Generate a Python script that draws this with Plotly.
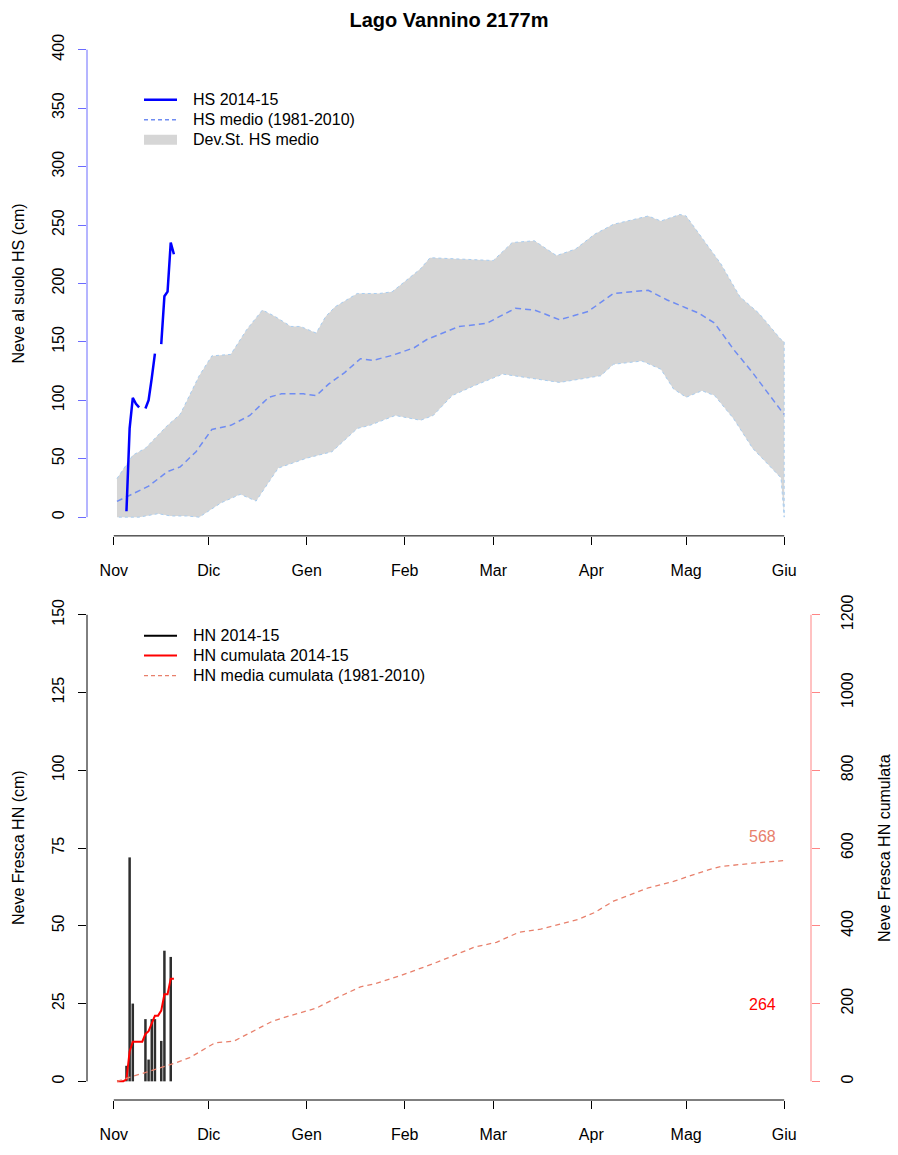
import pandas as pd
import numpy as np
import plotly.graph_objects as go

TITLE = "Lago Vannino 2177m"
MONTH_TICKS = ["2014-11-01", "2014-12-01", "2015-01-01", "2015-02-01",
               "2015-03-01", "2015-04-01", "2015-05-01", "2015-06-01"]
MONTH_LABELS = ["Nov", "Dic", "Gen", "Feb", "Mar", "Apr", "Mag", "Giu"]

HS_TICKS = [0, 50, 100, 150, 200, 250, 300, 350, 400]
HN_TICKS = [0, 25, 50, 75, 100, 125, 150]
CUM_TICKS = [0, 200, 400, 600, 800, 1000, 1200]

# HS 2014-15 (daily, None = missing)
hs_dates = [d.strftime("%Y-%m-%d") for d in pd.date_range("2014-11-05", "2014-11-20")]
hs_values = [5, 76, 102, 97, 94, None, 93, 100, 119, 140, None, 148, 189, 193, 235, 225]

# HS medio (1981-2010)
hs_mean_dates = ["2014-11-02", "2014-11-12", "2014-11-18", "2014-11-22", "2014-11-27",
                 "2014-12-02", "2014-12-08", "2014-12-14", "2014-12-20", "2014-12-24",
                 "2014-12-31", "2015-01-04", "2015-01-08", "2015-01-13", "2015-01-18",
                 "2015-01-22", "2015-01-28", "2015-02-04", "2015-02-08", "2015-02-18",
                 "2015-02-27", "2015-03-08", "2015-03-14", "2015-03-22", "2015-03-31",
                 "2015-04-08", "2015-04-19", "2015-04-25", "2015-05-05", "2015-05-10",
                 "2015-05-16", "2015-05-22", "2015-05-31", "2015-06-01"]
hs_mean_values = [13.5, 26.5, 39, 43, 56, 75, 78.6, 87, 102.6, 105.5,
                  105.5, 104, 114, 123.7, 135.6, 134.2, 138.4, 145, 152, 163,
                  166, 178.7, 177.3, 168.9, 176, 191.4, 194.2, 185.8, 174.5, 166,
                  143.5, 123.7, 91.3, 88]

# HS medio + dev.st.
hs_upper_dates = ["2014-11-02", "2014-11-07", "2014-11-11", "2014-11-18", "2014-11-22",
                  "2014-11-28", "2014-12-02", "2014-12-08", "2014-12-13", "2014-12-18",
                  "2014-12-22", "2014-12-27", "2014-12-30", "2015-01-04", "2015-01-07",
                  "2015-01-10", "2015-01-17", "2015-01-24", "2015-01-28", "2015-02-02",
                  "2015-02-06", "2015-02-09", "2015-02-18", "2015-03-01", "2015-03-07",
                  "2015-03-14", "2015-03-21", "2015-03-27", "2015-04-02", "2015-04-08",
                  "2015-04-19", "2015-04-23", "2015-04-29", "2015-05-01", "2015-05-12",
                  "2015-05-18", "2015-05-24", "2015-05-31", "2015-06-01"]
hs_upper_values = [33, 53, 59, 78.6, 88, 121, 138, 139.3, 160.4, 177.3,
                   171.7, 163.2, 163.2, 157.5, 171.7, 180, 191.4, 191.4, 192.8, 204,
                   212.5, 222, 221, 219.6, 235, 236.5, 223.8, 229.4, 242, 250.6,
                   257.7, 253.4, 259, 257.7, 216.7, 188.6, 174.5, 152, 150]

# HS medio - dev.st.
hs_lower_dates = ["2014-11-02", "2014-11-09", "2014-11-15", "2014-11-19", "2014-11-24",
                  "2014-11-28", "2014-12-05", "2014-12-11", "2014-12-16", "2014-12-23",
                  "2015-01-01", "2015-01-09", "2015-01-17", "2015-01-21", "2015-01-29",
                  "2015-02-06", "2015-02-10", "2015-02-16", "2015-02-23", "2015-03-04",
                  "2015-03-22", "2015-04-04", "2015-04-08", "2015-04-17", "2015-04-23",
                  "2015-04-27", "2015-05-01", "2015-05-06", "2015-05-10", "2015-05-16",
                  "2015-05-22", "2015-05-31", "2015-06-01"]
hs_lower_values = [0, 0, 3, 1, 1, 0, 12.4, 19.5, 13.8, 42,
                   50.5, 56, 75.9, 78.6, 87, 82.9, 87, 104, 112.5, 122.4,
                   115.3, 121, 130.8, 133.6, 126.6, 109.7, 102.6, 108.2, 104, 84.3,
                   59, 33.6, 0]

# HN 2014-15 (daily new snow)
hn_dates = [d.strftime("%Y-%m-%d") for d in pd.date_range("2014-11-02", "2014-11-20")]
hn_values = [0, 0, 0, 5, 72, 25, 0, 0, 0, 20, 7, 20, 20, 0, 13, 42, 0, 40, 0]

# HN media cumulata (1981-2010)
hn_cum_mean_dates = ["2014-11-02", "2014-11-07", "2014-11-13", "2014-11-20", "2014-11-25",
                     "2014-12-03", "2014-12-09", "2014-12-15", "2014-12-21", "2014-12-26",
                     "2015-01-04", "2015-01-09", "2015-01-18", "2015-01-23", "2015-01-31",
                     "2015-02-10", "2015-02-15", "2015-02-23", "2015-03-02", "2015-03-09",
                     "2015-03-16", "2015-03-28", "2015-04-02", "2015-04-08", "2015-04-19",
                     "2015-04-27", "2015-05-08", "2015-05-12", "2015-05-22", "2015-06-01"]
hn_cum_mean_values = [0, 12.7, 27, 45.8, 61, 99, 103.5, 129, 154, 167,
                      188, 209, 243, 252, 273, 302.5, 319.6, 345, 357.7, 383,
                      391.6, 417, 434, 463.5, 497.6, 514.4, 544, 552.5, 561, 568]

# ---------------------------------------------------------------
FONT = "Liberation Sans, Arial, Helvetica, sans-serif"
HS_COL = "#0000ff"
HS_AXIS_COL = "#6b6bff"
MEAN_COL = "#6f8cf2"
BAND_COL = "#d6d6d6"
BAND_EDGE = "#a9cdf0"
CUM_COL = "#ff0000"
CUMMEAN_COL = "#e8806c"
RIGHT_AXIS_COL = "#ff8585"
BAR_COL = "#2e2e2e"

W, H = 898, 1155
ML, MR, MT, MB = 87, 87, 31, 42
PW, PH = W - ML - MR, H - MT - MB


def px_x(px):
    return (px - ML) / PW


def px_y(py):
    return (H - MB - py) / PH


hn_cum = list(np.cumsum(hn_values))

fig = go.Figure()

# ---- top panel -------------------------------------------------
band_x = hs_upper_dates + hs_lower_dates[::-1]
band_y = hs_upper_values + hs_lower_values[::-1]
fig.add_trace(go.Scatter(x=band_x, y=band_y, fill="toself", fillcolor=BAND_COL,
                         line=dict(color=BAND_EDGE, width=1, dash="dot"),
                         mode="lines", name="Dev.St. HS medio", showlegend=False,
                         hoverinfo="skip", xaxis="x", yaxis="y"))
fig.add_trace(go.Scatter(x=hs_mean_dates, y=hs_mean_values, mode="lines",
                         line=dict(color=MEAN_COL, width=1.5, dash="6px,4px"),
                         name="HS medio (1981-2010)", showlegend=False,
                         xaxis="x", yaxis="y"))
fig.add_trace(go.Scatter(x=hs_dates, y=hs_values, mode="lines", connectgaps=False,
                         line=dict(color=HS_COL, width=2.5), name="HS 2014-15",
                         showlegend=False, xaxis="x", yaxis="y"))

# ---- bottom panel ----------------------------------------------
bar_x, bar_y = [], []
for d, v in zip(hn_dates, hn_values):
    bar_x += [d, d, None]
    bar_y += [0, v, None]
fig.add_trace(go.Scatter(x=bar_x, y=bar_y, mode="lines",
                         line=dict(color=BAR_COL, width=2.5), name="HN 2014-15",
                         showlegend=False, xaxis="x2", yaxis="y2"))
fig.add_trace(go.Scatter(x=hn_dates, y=hn_cum, mode="lines",
                         line=dict(color=CUM_COL, width=2),
                         name="HN cumulata 2014-15", showlegend=False,
                         xaxis="x2", yaxis="y3"))
fig.add_trace(go.Scatter(x=hn_cum_mean_dates, y=hn_cum_mean_values, mode="lines",
                         line=dict(color=CUMMEAN_COL, width=1.3, dash="5px,4px"),
                         name="HN media cumulata (1981-2010)", showlegend=False,
                         xaxis="x2", yaxis="y3"))

# ---- axes ------------------------------------------------------
start = pd.Timestamp(MONTH_TICKS[0])
end = pd.Timestamp(MONTH_TICKS[-1])
pad = (end - start) * 0.04
xrange = [str(start - pad), str(end + pad)]


def xax(anchor):
    return dict(type="date", range=xrange, tickvals=MONTH_TICKS, ticktext=MONTH_LABELS,
                showline=False, showgrid=False, zeroline=False, ticks="outside",
                ticklen=8, tickcolor="black", tickwidth=1, anchor=anchor,
                ticklabelstandoff=12,
                tickfont=dict(family=FONT, size=16, color="black"))


def yax(ticks, color, domain=None, side="left", overlaying=None, anchor=None, standoff=8):
    pad_ = (ticks[-1] - ticks[0]) * 0.04
    d = dict(range=[ticks[0] - pad_, ticks[-1] + pad_], tickvals=ticks,
             showline=False, showgrid=False, zeroline=False, ticks="outside",
             ticklen=8, tickcolor=color, tickwidth=1, tickangle=-90,
             ticklabelstandoff=standoff, side=side,
             tickfont=dict(family=FONT, size=16, color="black"))
    if domain is not None:
        d["domain"] = domain
    if overlaying is not None:
        d["overlaying"] = overlaying
    if anchor is not None:
        d["anchor"] = anchor
    return d


top_dom = [px_y(542), 1.0]
bot_dom = [0.0, px_y(603)]

shapes = [
    # R-style axis lines spanning only the tick range
    dict(type="line", xref="x", yref="y domain", x0=MONTH_TICKS[0], x1=MONTH_TICKS[-1],
         y0=0, y1=0, line=dict(color="black", width=1)),
    dict(type="line", xref="x domain", yref="y", x0=0, x1=0,
         y0=HS_TICKS[0], y1=HS_TICKS[-1], line=dict(color=HS_AXIS_COL, width=1)),
    dict(type="line", xref="x2", yref="y2 domain", x0=MONTH_TICKS[0], x1=MONTH_TICKS[-1],
         y0=0, y1=0, line=dict(color="black", width=1)),
    dict(type="line", xref="x2 domain", yref="y2", x0=0, x1=0,
         y0=HN_TICKS[0], y1=HN_TICKS[-1], line=dict(color="black", width=1)),
    dict(type="line", xref="x2 domain", yref="y3", x0=1, x1=1,
         y0=CUM_TICKS[0], y1=CUM_TICKS[-1], line=dict(color=RIGHT_AXIS_COL, width=1)),
]

annotations = [
    dict(text="Neve al suolo HS (cm)", xref="paper", x=0, xshift=-69, yref="y domain",
         y=0.5, textangle=-90, showarrow=False, xanchor="center", yanchor="middle",
         font=dict(family=FONT, size=16, color="black")),
    dict(text="Neve Fresca HN (cm)", xref="paper", x=0, xshift=-69, yref="y2 domain",
         y=0.5, textangle=-90, showarrow=False, xanchor="center", yanchor="middle",
         font=dict(family=FONT, size=16, color="black")),
    dict(text="Neve Fresca HN cumulata", xref="paper", x=1, xshift=73, yref="y2 domain",
         y=0.5, textangle=-90, showarrow=False, xanchor="center", yanchor="middle",
         font=dict(family=FONT, size=16, color="black")),
    dict(text=f"{round(hn_cum_mean_values[-1])}", xref="x2", yref="y3",
         x="2015-05-25", y=hn_cum_mean_values[-1] + 61, showarrow=False,
         font=dict(family=FONT, size=16, color=CUMMEAN_COL)),
    dict(text=f"{int(hn_cum[-1])}", xref="x2", yref="y3",
         x="2015-05-25", y=197, showarrow=False,
         font=dict(family=FONT, size=16, color=CUM_COL)),
]

# ---- R-style legends (drawn by hand for exact spacing) ---------
legend_top = [
    ("HS 2014-15", dict(color=HS_COL, width=2.5)),
    ("HS medio (1981-2010)", dict(color=MEAN_COL, width=1.5, dash="4px,3px")),
    ("Dev.St. HS medio", dict(color=BAND_COL, width=10)),
]
legend_bot = [
    ("HN 2014-15", dict(color="black", width=2)),
    ("HN cumulata 2014-15", dict(color=CUM_COL, width=2)),
    ("HN media cumulata (1981-2010)", dict(color=CUMMEAN_COL, width=1.2, dash="4px,3px")),
]


def add_legend(items, first_row_px, row_gap=20.2):
    for i, (label, style) in enumerate(items):
        ypx = first_row_px + i * row_gap
        shapes.append(dict(type="line", xref="paper", yref="paper",
                           x0=px_x(144), x1=px_x(177), y0=px_y(ypx), y1=px_y(ypx),
                           line=style))
        annotations.append(dict(text=label, xref="paper", yref="paper",
                                x=px_x(191), y=px_y(ypx), xanchor="left",
                                yanchor="middle", showarrow=False,
                                font=dict(family=FONT, size=16, color="black")))


add_legend(legend_top, 100.7)
add_legend(legend_bot, 643)

# Start 16px smaller so the page never overflows while the browser's default
# 8px body margin is still present; then drop the margin and use full size.
fig.update_layout(
    width=W - 16, height=H - 16,
    margin=dict(l=ML, r=MR, t=MT, b=MB),
    paper_bgcolor="white", plot_bgcolor="white",
    font=dict(family=FONT, size=16, color="black"),
    showlegend=False,
    title=dict(text=f"<b>{TITLE}</b>", x=0.5, xref="paper", xanchor="center",
               y=1 - 20 / H, yref="container", yanchor="middle",
               font=dict(family=FONT, size=20, color="black")),
    xaxis=xax("y"),
    yaxis=yax(HS_TICKS, HS_AXIS_COL, domain=top_dom, anchor="x"),
    xaxis2=xax("y2"),
    yaxis2=yax(HN_TICKS, "black", domain=bot_dom, anchor="x2"),
    yaxis3=yax(CUM_TICKS, RIGHT_AXIS_COL, side="right", overlaying="y2", anchor="x2",
               standoff=14),
    shapes=shapes,
    annotations=annotations,
)

POST = ("document.body.style.margin='0';"
        "document.documentElement.style.overflow='hidden';"
        "var gd=document.getElementById('{plot_id}');"
        "return Plotly.relayout(gd,{width:%d,height:%d});" % (W, H))

fig.write_html("out.html", config={"displayModeBar": False}, post_script=POST)
